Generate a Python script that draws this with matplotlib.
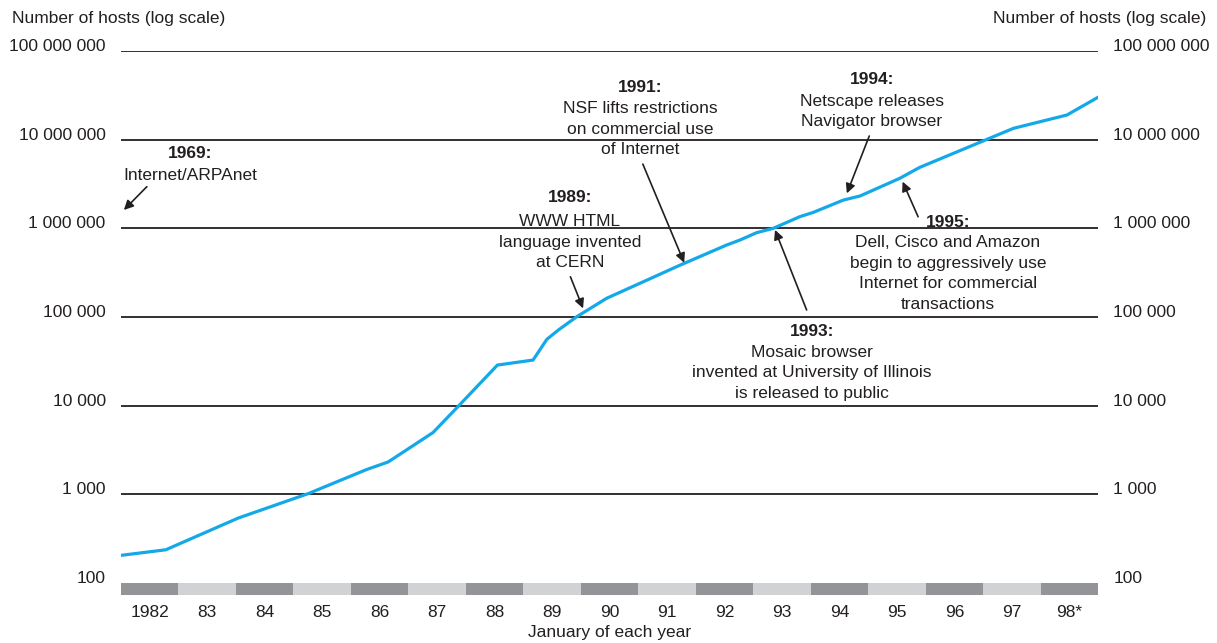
import numpy as np
import matplotlib.pyplot as plt
from matplotlib.ticker import FixedLocator, NullLocator

plt.rcParams['font.family'] = ['Liberation Sans', 'DejaVu Sans']

# position along the time bands (0 = start of 1982 band, 17 = end of 98 band)
t_pos = [0.0, 0.78, 2.04, 3.26, 4.27, 4.65, 5.43, 5.87, 6.55, 7.17, 7.41, 7.61,
         7.93, 8.45, 9.73, 10.54, 10.77, 11.06, 11.35, 11.81, 12.05, 12.57,
         12.86, 13.55, 13.90, 15.53, 16.46, 17.0]
hosts = [205, 237, 540, 1020, 1900, 2320, 4980, 9860, 28700, 32700, 56000, 71300,
         100700, 162500, 385000, 649000, 738000, 893000, 1000000, 1352000, 1517000,
         2084000, 2317000, 3664000, 4875000, 13430000, 18970000, 30060000]

year_labels = ['1982', '83', '84', '85', '86', '87', '88', '89', '90', '91',
               '92', '93', '94', '95', '96', '97', '98*']
grid_values = [1e3, 1e4, 1e5, 1e6, 1e7, 1e8]
tick_values = [1e2, 1e3, 1e4, 1e5, 1e6, 1e7, 1e8]
tick_labels = ['100', '1 000', '10 000', '100 000', '1 000 000', '10 000 000', '100 000 000']

# (year, text, arrow tail (t, hosts), arrow tip (t, hosts))
events = [
    ('1969:', 'Internet/ARPAnet', (0.45, 2.95e6), (0.05, 1.61e6)),
    ('1989:', 'WWW HTML\nlanguage invented\nat CERN', (7.82, 2.84e5), (8.04, 1.25e5)),
    ('1991:', 'NSF lifts restrictions\non commercial use\nof Internet', (9.08, 5.3e6), (9.80, 4.09e5)),
    ('1993:', 'Mosaic browser\ninvented at University of Illinois\nis released to public', (11.93, 1.2e5), (11.38, 9.6e5)),
    ('1994:', 'Netscape releases\nNavigator browser', (13.02, 1.1e7), (12.63, 2.48e6)),
    ('1995:', 'Dell, Cisco and Amazon\nbegin to aggressively use\nInternet for commercial\ntransactions', (13.87, 1.35e6), (13.60, 3.36e6)),
]
# text block anchor in pixels: (x centre, y of year line, y centre of body)
text_px = [(190, 153, 175), (570, 198, 242), (640, 87, 129),
           (812, 332, 373), (872, 80, 111.5), (948, 222, 273.5)]

W, H = 1217, 643
fig = plt.figure(figsize=(W / 100, H / 100), dpi=100)

def fx(px):
    return px / W

def fy(py):
    return 1 - py / H

ax = fig.add_axes([fx(121), fy(583), fx(1098) - fx(121), fy(51) - fy(583)])
ax.set_yscale('log')
ax.set_ylim(100, 1e8)
ax.set_xlim(0, 17)
for v in grid_values:
    ax.axhline(v, color='#231f20', lw=1.3, zorder=1)
ax.plot(t_pos, hosts, color='#13a9e9', lw=2.3, zorder=3, solid_joinstyle='round')
for s in ax.spines.values():
    s.set_visible(False)
ax.xaxis.set_major_locator(NullLocator())
ax.yaxis.set_major_locator(FixedLocator(tick_values))
ax.yaxis.set_minor_locator(NullLocator())
ax.set_yticklabels(tick_labels)
ax.tick_params(axis='y', length=0, labelsize=12.5, colors='#231f20', pad=11,
               right=True, labelright=True)
for t in ax.yaxis.get_major_ticks():
    t.label2.set_verticalalignment('baseline')
    t.label1.set_verticalalignment('baseline')

# year bands
band = fig.add_axes([fx(121), fy(595), fx(1098) - fx(121), fy(583) - fy(595)])
band.set_xlim(0, 17)
band.set_ylim(0, 1)
for i in range(len(year_labels)):
    band.axvspan(i, i + 1, color='#939498' if i % 2 == 0 else '#d1d2d4', lw=0)
band.set_xticks(np.arange(len(year_labels)) + 0.5)
band.set_xticklabels(year_labels)
band.set_yticks([])
band.tick_params(axis='x', length=0, labelsize=12.5, pad=7, colors='#231f20')
for s in band.spines.values():
    s.set_visible(False)

fig.text(fx(610), fy(633), 'January of each year', ha='center', va='center',
         fontsize=12.5, color='#231f20')
fig.text(fx(12), fy(18), 'Number of hosts (log scale)', ha='left', va='center',
         fontsize=12.5, color='#231f20')
fig.text(fx(1206), fy(18), 'Number of hosts (log scale)', ha='right', va='center',
         fontsize=12.5, color='#231f20')

for (yr, body, tail, tip), (cx, yy, by) in zip(events, text_px):
    fig.text(fx(cx), fy(yy), yr, ha='center', va='center', fontsize=12.5,
             fontweight='bold', color='#231f20')
    fig.text(fx(cx), fy(by), body, ha='center', va='center', fontsize=12.5,
             color='#231f20', linespacing=1.47)
    ax.annotate('', xy=tip, xytext=tail,
                arrowprops=dict(arrowstyle='-|>', color='#231f20', lw=1.2,
                                mutation_scale=14, shrinkA=0, shrinkB=0))

fig.savefig('out.png', dpi=100)
